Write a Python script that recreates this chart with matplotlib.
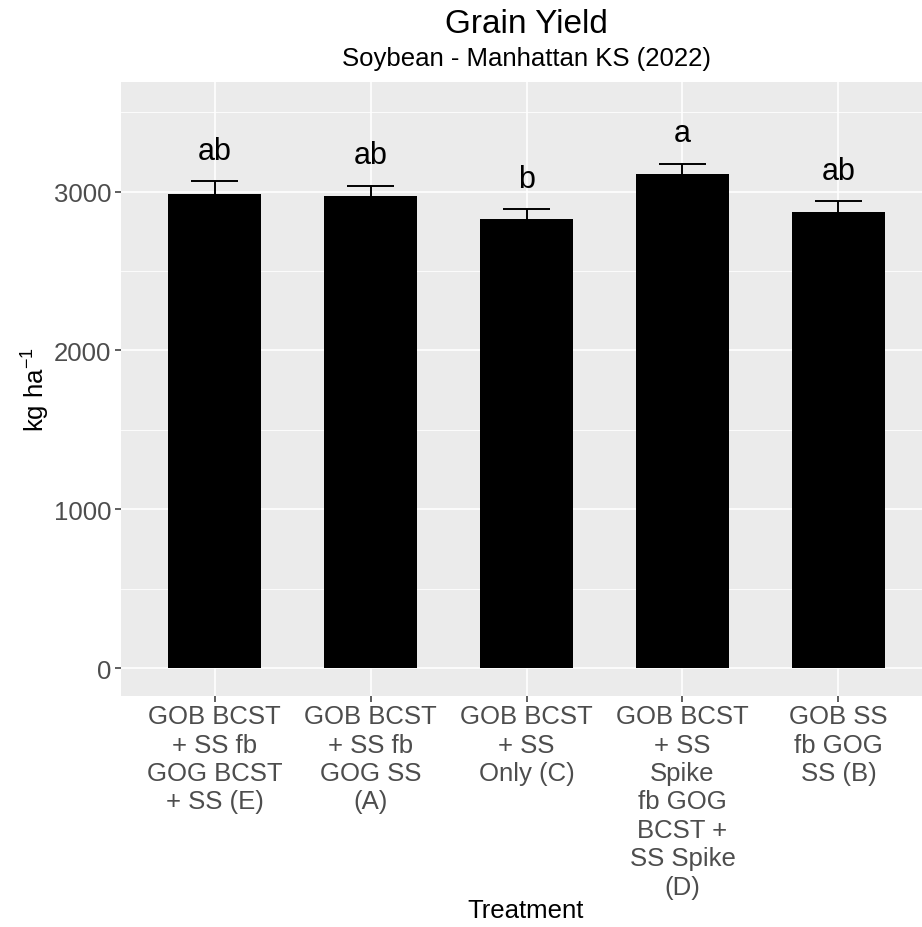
import matplotlib
matplotlib.use("Agg")
import matplotlib.pyplot as plt
from matplotlib.ticker import MultipleLocator

plt.rcParams['font.family'] = ['Liberation Sans', 'DejaVu Sans']
plt.rcParams['mathtext.fontset'] = 'custom'
plt.rcParams['mathtext.rm'] = 'Liberation Sans'
plt.rcParams['mathtext.it'] = 'Liberation Sans'

treatments = ["GOB BCST\n+ SS fb\nGOG BCST\n+ SS (E)",
              "GOB BCST\n+ SS fb\nGOG SS\n(A)",
              "GOB BCST\n+ SS\nOnly (C)",
              "GOB BCST\n+ SS\nSpike\nfb GOG\nBCST +\nSS Spike\n(D)",
              "GOB SS\nfb GOG\nSS (B)"]
yield_mean = [2982, 2971, 2825, 3112, 2873]
yield_se = [86, 67, 67, 64, 69]
letters = ["ab", "ab", "b", "a", "ab"]

W, H = 922, 928
fig = plt.figure(figsize=(W / 100, H / 100), dpi=100)
# panel runs off the right side of the figure
ax = fig.add_axes([121 / W, (H - 697) / H, 811 / W, 614 / H])
ax.set_facecolor('#EBEBEB')
for s in ax.spines.values():
    s.set_visible(False)

x = list(range(1, len(treatments) + 1))
ax.bar(x, yield_mean, width=0.6, color='black', zorder=3)

tops = [m + s for m, s in zip(yield_mean, yield_se)]
ax.vlines(x, yield_mean, tops, color='black', lw=1.4, zorder=3)
ax.hlines(tops, [i - 0.15 for i in x], [i + 0.15 for i in x], color='black', lw=1.4, zorder=3)

for i, t, lab in zip(x, tops, letters):
    ax.annotate(lab, (i, t), xytext=(0, 16), textcoords='offset points',
                ha='center', va='baseline', fontsize=22)

ax.set_xlim(0.4, 5.6)
ax.set_ylim(-176, 3690)
ax.set_xticks(x)
ax.set_xticklabels(treatments, fontsize=18.5, color='#4D4D4D', linespacing=1.23, va='top')
ax.yaxis.set_major_locator(MultipleLocator(1000))
ax.yaxis.set_minor_locator(MultipleLocator(500))
ax.tick_params(axis='y', labelsize=18.5, labelcolor='#4D4D4D', length=4, width=1.1,
               color='#333333', pad=3)
ax.tick_params(axis='y', which='minor', length=0)
ax.tick_params(axis='x', length=4, width=1.1, color='#333333', pad=2)
ax.grid(which='major', color='white', lw=1.2, zorder=0)
ax.grid(which='minor', axis='y', color='white', lw=0.6, zorder=0)
ax.set_axisbelow(True)

cx = 526 / W
fig.text(cx, 1 - 33 / H, "Grain Yield", ha='center', va='baseline', fontsize=24)
fig.text(cx, 1 - 66 / H, "Soybean - Manhattan KS (2022)", ha='center', va='baseline', fontsize=18.5)
fig.text(cx, 1 - 918 / H, "Treatment", ha='center', va='baseline', fontsize=18.5)
fig.text(36 / W, 1 - 390 / H, r"kg ha$^{-1}$", rotation=90, ha='center', va='center', fontsize=18.5)

fig.savefig("out.png", dpi=100)
